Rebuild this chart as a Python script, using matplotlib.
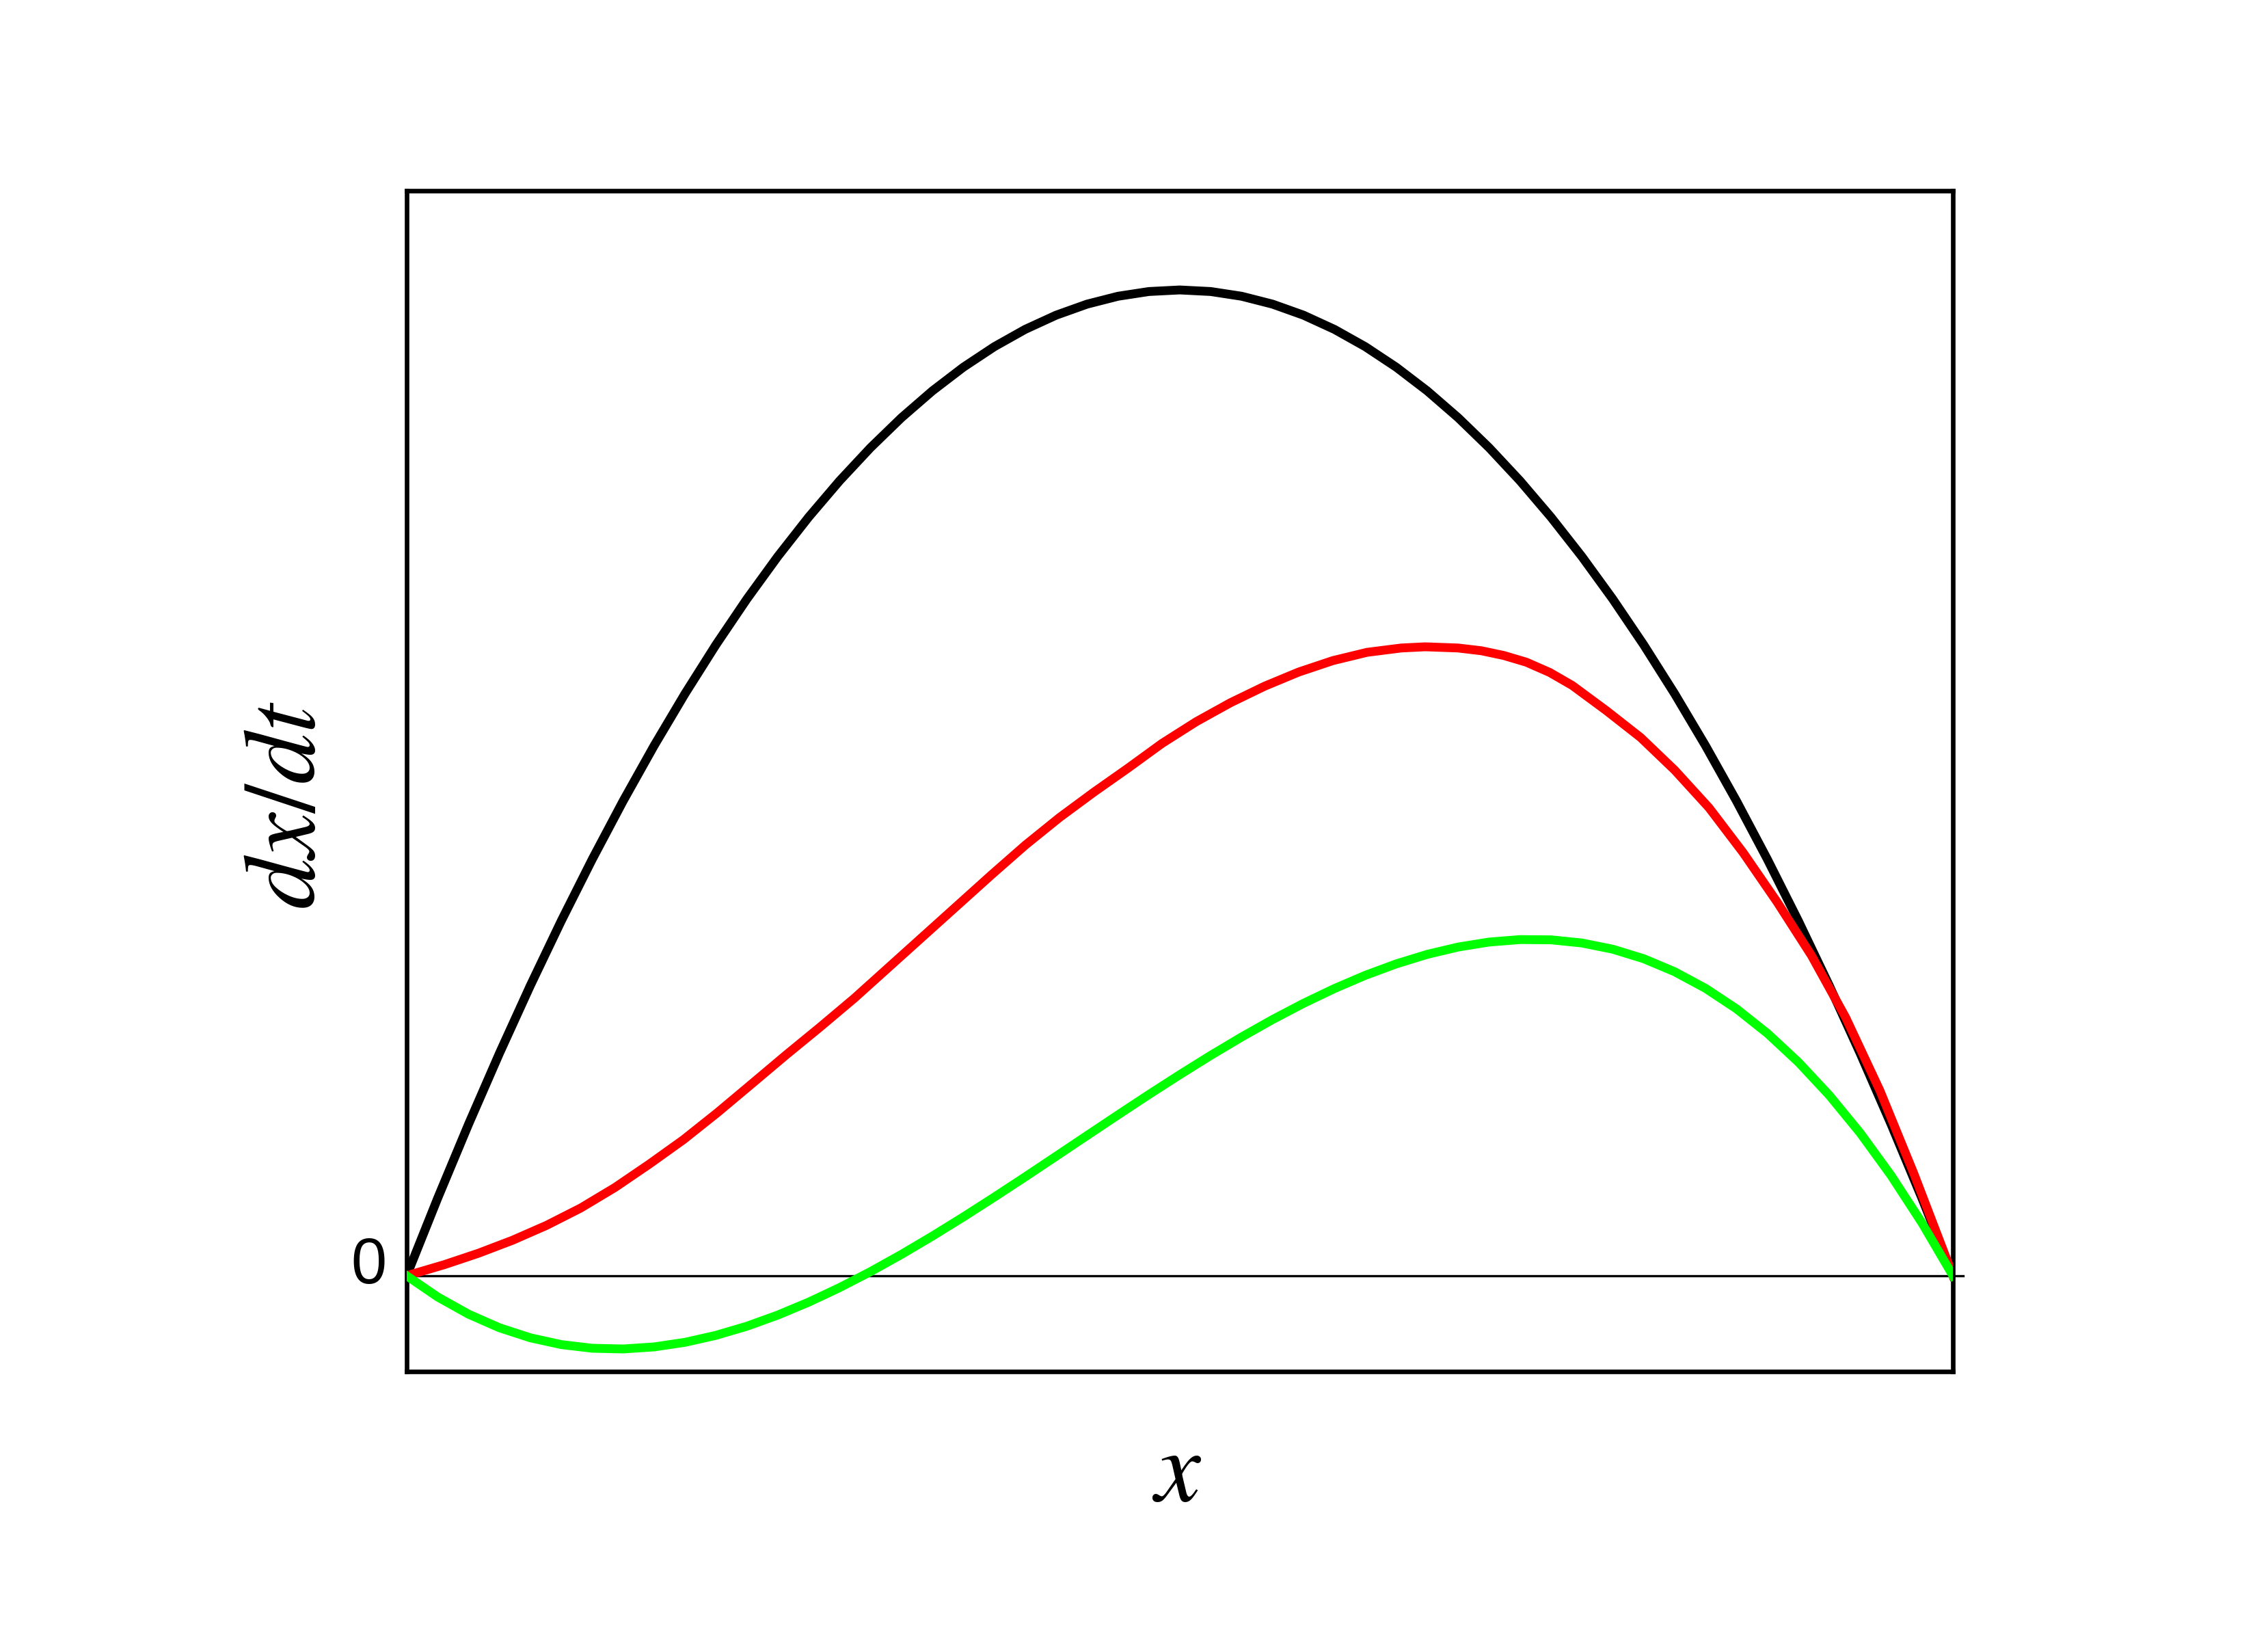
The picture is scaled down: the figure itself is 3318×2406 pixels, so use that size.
#!/usr/bin/env python3
"""
dx/dt vs x: three growth curves (black, red, green)
"""

import matplotlib
matplotlib.use('Agg')
import matplotlib.pyplot as plt
from matplotlib.transforms import ScaledTranslation

plt.rcParams['mathtext.fontset'] = 'stix'

# black curve
x_black = [0.00, 0.02, 0.04, 0.06, 0.08, 0.10, 0.12, 0.14, 0.16, 0.18, 0.20, 0.22, 0.24,
           0.26, 0.28, 0.30, 0.32, 0.34, 0.36, 0.38, 0.40, 0.42, 0.44, 0.46, 0.48, 0.50,
           0.52, 0.54, 0.56, 0.58, 0.60, 0.62, 0.64, 0.66, 0.68, 0.70, 0.72, 0.74, 0.76,
           0.78, 0.80, 0.82, 0.84, 0.86, 0.88, 0.90, 0.92, 0.94, 0.96, 0.98, 1.00]
y_black = [0.0, 0.0196, 0.0384, 0.0564, 0.0736, 0.0900, 0.1056, 0.1204, 0.1344, 0.1476,
           0.1600, 0.1716, 0.1824, 0.1924, 0.2016, 0.2100, 0.2176, 0.2244, 0.2304, 0.2356,
           0.2400, 0.2436, 0.2464, 0.2484, 0.2496, 0.2500, 0.2496, 0.2484, 0.2464, 0.2436,
           0.2400, 0.2356, 0.2304, 0.2244, 0.2176, 0.2100, 0.2016, 0.1924, 0.1824, 0.1716,
           0.1600, 0.1476, 0.1344, 0.1204, 0.1056, 0.0900, 0.0736, 0.0564, 0.0384, 0.0196,
           0.0]

# red curve
x_red = [0.0, 0.0243, 0.0464, 0.0685, 0.0906, 0.1127, 0.1348, 0.1569, 0.1790, 0.2011,
         0.2233, 0.2454, 0.2675, 0.2896, 0.3117, 0.3338, 0.3559, 0.3780, 0.4001, 0.4222,
         0.4443, 0.4664, 0.4885, 0.5106, 0.5327, 0.5548, 0.5769, 0.5990, 0.6211, 0.6432,
         0.6587, 0.6799, 0.6950, 0.7095, 0.7241, 0.7392, 0.7538, 0.7759, 0.7980, 0.8201,
         0.8422, 0.8643, 0.8864, 0.9085, 0.9306, 0.9527, 0.9748, 1.0]
y_red = [0.0, 0.0028, 0.0057, 0.0090, 0.0128, 0.0172, 0.0224, 0.0283, 0.0345, 0.0414,
         0.0487, 0.0560, 0.0631, 0.0704, 0.0782, 0.0860, 0.0938, 0.1016, 0.1092, 0.1162,
         0.1226, 0.1287, 0.1350, 0.1405, 0.1453, 0.1495, 0.1531, 0.1560, 0.1581, 0.1592,
         0.1595, 0.1592, 0.1585, 0.1573, 0.1556, 0.1530, 0.1497, 0.1433, 0.1365, 0.1282,
         0.1187, 0.1073, 0.0947, 0.0812, 0.0655, 0.0470, 0.0258, 0.0]

# green curve
x_green = x_black
y_green = [0.0, -0.00536, -0.00974, -0.01319, -0.01574, -0.01746, -0.01839, -0.01857,
           -0.01805, -0.01689, -0.01512, -0.01281, -0.00998, -0.00670, -0.00301, 0.00104,
           0.00541, 0.01005, 0.01490, 0.01993, 0.02507, 0.03030, 0.03555, 0.04078,
           0.04595, 0.05099, 0.05588, 0.06055, 0.06497, 0.06908, 0.07283, 0.07619,
           0.07909, 0.08150, 0.08336, 0.08462, 0.08525, 0.08519, 0.08439, 0.08281,
           0.08040, 0.07710, 0.07288, 0.06769, 0.06147, 0.05418, 0.04577, 0.03620,
           0.02541, 0.01336, 0.0]

fig = plt.figure(figsize=(3318 / 300, 2406 / 300), dpi=300, facecolor='white')
ax = fig.add_axes([0.1793, 0.1663, 0.6818, 0.7177])

# zero line, runs a little past the right edge
ax.axhline(0, xmin=0, xmax=1.0066, color='black', linewidth=0.8, clip_on=False, zorder=1)

ax.plot(x_black, y_black, color='#000000', linewidth=3.1, zorder=2)
ax.plot(x_red, y_red, color='#ff0000', linewidth=3.1, zorder=3)
ax.plot(x_green, y_green, color='#00ff00', linewidth=3.1, zorder=4)

ax.set_xlim(0, 1)
ax.set_ylim(-0.02427, 0.27514)

for sp in ax.spines.values():
    sp.set_linewidth(1.6)
    sp.set_color('black')

ax.set_xticks([])
ax.set_yticks([0])
ax.set_yticklabels(['0'], fontsize=22.5, family=['Liberation Sans', 'Arial', 'DejaVu Sans'])
ax.tick_params(axis='y', length=0, pad=7)
# lift the "0" a little, as in the original
for lab in ax.get_yticklabels():
    lab.set_transform(lab.get_transform() + ScaledTranslation(0, 5.5 / 72, fig.dpi_scale_trans))

# axis labels
fig.text(419 / 3318, 1 - 1178 / 2406, r'$dx/dt$', rotation=90, ha='center', va='center',
         fontsize=36)
fig.text(1722 / 3318, 1 - 2195 / 2406, r'$x$', ha='center', va='baseline', fontsize=36)

plt.savefig('out.png', dpi=300, facecolor='white')
plt.close()
